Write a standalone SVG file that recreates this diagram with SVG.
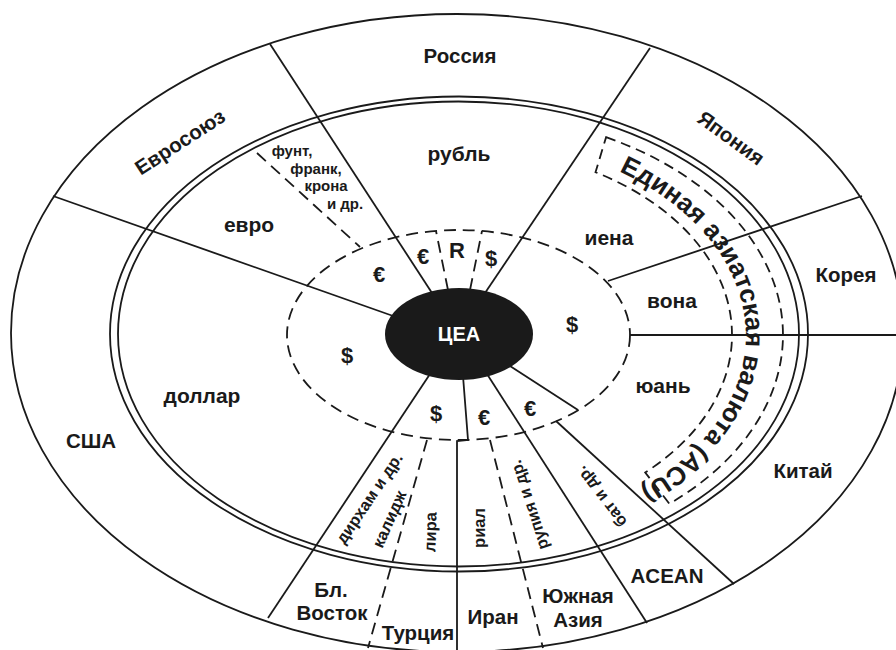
<svg xmlns="http://www.w3.org/2000/svg" width="896" height="650" viewBox="0 0 896 650">
<style>
.ln{fill:none;stroke:#1a1a1a;stroke-width:1.8}
.dl{fill:none;stroke:#1a1a1a;stroke-width:1.8;stroke-dasharray:12 7}
.da{fill:none;stroke:#1a1a1a;stroke-width:1.8;stroke-dasharray:10 6}
text{font-family:"Liberation Sans",Arial,sans-serif;font-weight:bold;fill:#1a1a1a;text-anchor:middle}
.c{font-size:20.5px}
.cur{font-size:21px}
.sym{font-size:22px}
.s{font-size:15px}
.r{font-size:16.5px}
</style>
<defs>
<path id="acuPath" d="M619,171.5 A288 198 0 0 1 603,506.5" fill="none"/>
</defs>
<rect width="896" height="650" fill="#ffffff"/>
<g id="rings">
<ellipse cx="457" cy="333" rx="446" ry="319" class="ln" stroke-width="2"/>
<ellipse cx="459" cy="334" rx="349" ry="237.5" class="ln" stroke-width="2.2"/>
<ellipse cx="458.5" cy="334" rx="340.5" ry="232.5" class="ln" stroke-width="2.2"/>
<ellipse cx="458.5" cy="335" rx="171.5" ry="105" class="dl"/>
</g>
<g id="connectors">
<path class="ln" d="M270,44 L432,293"/>
<path class="ln" d="M650,48 L485,293"/>
<path class="ln" d="M53,196 L396,317"/>
<path class="ln" d="M268,618 L430,374"/>
<path class="ln" d="M463,376 L468,440 L457,441 L457,652"/>
<path class="ln" d="M487,374 L647,623"/>
<path class="ln" d="M510,366 L578,410"/>
<path class="ln" d="M556,421 L734,584"/>
<path class="ln" d="M608,281 L862,196"/>
<path class="ln" d="M630,335 L896,335"/>
<path class="dl" d="M257,153 L360,247"/>
<path class="dl" d="M448,290 L436,231"/>
<path class="dl" d="M470,290 L482,231"/>
<path class="dl" d="M427,440 L368,648"/>
<path class="dl" d="M490,440 L543,648"/>
</g>
<g id="acu">
<path class="da" d="M606.1,137.2 A324 222 0 0 1 669.4,503.8 L645.2,472.5 A273 188 0 0 0 595.5,172.2 Z"/>
<text style="font-size:26px;text-anchor:start"><textPath href="#acuPath">Единая азиатская валюта (ACU)</textPath></text>
</g>
<g id="cea">
<ellipse cx="459" cy="334" rx="74" ry="46" fill="#1a1a1a"/>
<text x="459" y="341" style="fill:#ffffff;font-size:20px">ЦЕА</text>
</g>
<g id="russia"><text class="c" x="460" y="63">Россия</text><text class="cur" x="459" y="161">рубль</text></g>
<g id="eu"><text class="c" transform="translate(180,142) rotate(-33)" y="7">Евросоюз</text><text class="cur" x="249" y="232">евро</text>
<text class="s" x="292" y="156">фунт,</text><text class="s" x="316" y="174">франк,</text><text class="s" x="326" y="191">крона</text><text class="s" x="345" y="209">и др.</text></g>
<g id="japan"><text class="c" transform="translate(731,138) rotate(36)" y="7">Япония</text><text class="cur" x="609" y="245">иена</text></g>
<g id="korea"><text class="c" x="846" y="282">Корея</text><text class="cur" x="672" y="308">вона</text></g>
<g id="china"><text class="c" x="803" y="478">Китай</text><text class="cur" x="663" y="393">юань</text></g>
<g id="asean"><text class="c" x="667" y="583">ACEAN</text><text class="r" transform="translate(601,497) rotate(-128)" y="6">бат и др.</text></g>
<g id="south-asia"><text class="c" x="578" y="603">Южная</text><text class="c" x="578" y="627">Азия</text><text class="r" transform="translate(529,505) rotate(-108)" y="6">рупия и др.</text></g>
<g id="iran"><text class="c" x="493" y="624">Иран</text><text class="r" transform="translate(479,528) rotate(-90)" y="6">риал</text></g>
<g id="turkey"><text class="c" x="418" y="640">Турция</text><text class="r" transform="translate(430,532) rotate(-88)" y="6">лира</text></g>
<g id="middle-east"><text class="c" x="331" y="597">Бл.</text><text class="c" x="332" y="620">Восток</text>
<text class="r" transform="translate(369,498) rotate(-56)" y="6">дирхам и др.</text><text class="r" transform="translate(389,519) rotate(-66)" y="6">калидж</text></g>
<g id="usa"><text class="c" x="91" y="448">США</text><text class="cur" x="202" y="403">доллар</text></g>
<g id="symbols">
<text class="sym" x="379" y="282">€</text>
<text class="sym" x="423" y="264">€</text>
<text class="sym" x="457" y="258">R</text>
<text class="sym" x="491" y="266">$</text>
<text class="sym" x="572" y="332">$</text>
<text class="sym" x="347" y="363">$</text>
<text class="sym" x="436" y="421">$</text>
<text class="sym" x="484" y="425">€</text>
<text class="sym" x="530" y="416">€</text>
</g>
</svg>
